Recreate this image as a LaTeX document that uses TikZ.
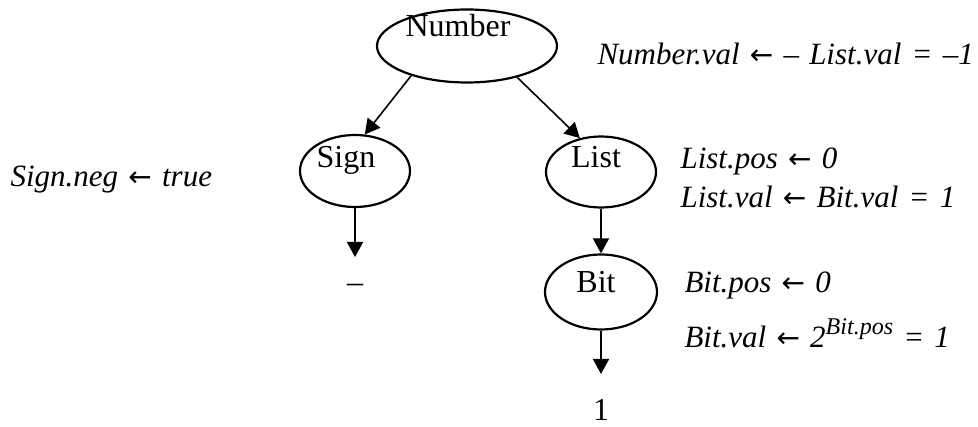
\documentclass[tikz,border=0pt]{standalone}
\usepackage{fontspec}
\setmainfont{Liberation Serif}
\newfontfamily\arrowfont{DejaVu Sans}
\usepackage{tikz}
\usetikzlibrary{shapes.geometric,arrows.meta}

\newcommand{\rulefont}{\itshape\fontsize{31}{36}\selectfont\spaceskip=0.33em\relax}
\tikzset{
  attr/.style={ellipse,draw,line width=2.2pt,inner sep=0pt},
  rule/.style={anchor=base west,font=\rulefont},
  edge/.style={line width=1.6pt,-{Triangle[width=16pt,length=15pt]}},
  leaf/.style={anchor=base,font=\fontsize{32}{36}\selectfont}
}
\newcommand{\supsize}[1]{\raisebox{13pt}{\fontsize{24}{24}\selectfont #1}}
\newcommand{\getsarrow}{{\arrowfont\fontsize{28}{30}\selectfont ←}}

\begin{document}
\begin{tikzpicture}[x=1pt,y=-1pt,font=\fontsize{32}{36}\selectfont]
  \useasboundingbox (0,0) rectangle (978,427);
  % parse tree
  \node[attr,minimum width=180pt,minimum height=73pt,
        label={[xshift=-9pt,yshift=20pt]center:Number}] (num) at (467,46) {};
  \node[attr,minimum width=110pt,minimum height=72pt,
        label={[xshift=-9pt,yshift=10.5pt]center:Sign}] (sign) at (355,171) {};
  \node[attr,minimum width=110pt,minimum height=71pt,
        label={[xshift=-5pt,yshift=14.5pt]center:List}] (list) at (601,172) {};
  \node[attr,minimum width=112pt,minimum height=75pt,
        label={[xshift=-5pt,yshift=9.5pt]center:Bit}] (bit) at (601,292) {};
  \node[leaf] (minus) at (355,293) {--};
  \node[leaf] (one) at (601,421) {1};
  \coordinate (signend) at (355,257);
  \coordinate (bitend) at (601,374);
  \draw[edge] (num.208) -- (sign.75);
  \draw[edge] (num.328) -- (list.122);
  \draw[edge] (sign.south) -- (signend);
  \draw[edge] (list.south) -- (bit.north);
  \draw[edge] (bit.south) -- (bitend);
  % semantic rules
  \node[rule] (rnum) at (594,65) {Number.val \getsarrow{} – List.val = –1};
  \node[rule] (rsign) at (7,187) {Sign.neg \getsarrow{} true};
  \node[rule] (rlpos) at (677,169) {List.pos \getsarrow{} 0};
  \node[rule] (rlval) at (677,208) {List.val \getsarrow{} Bit.val = 1};
  \node[rule] (rbpos) at (681,293) {Bit.pos \getsarrow{} 0};
  \node[rule] (rbval) at (681,348) {Bit.val \getsarrow{} 2\supsize{Bit.pos} = 1};
\end{tikzpicture}
\end{document}
